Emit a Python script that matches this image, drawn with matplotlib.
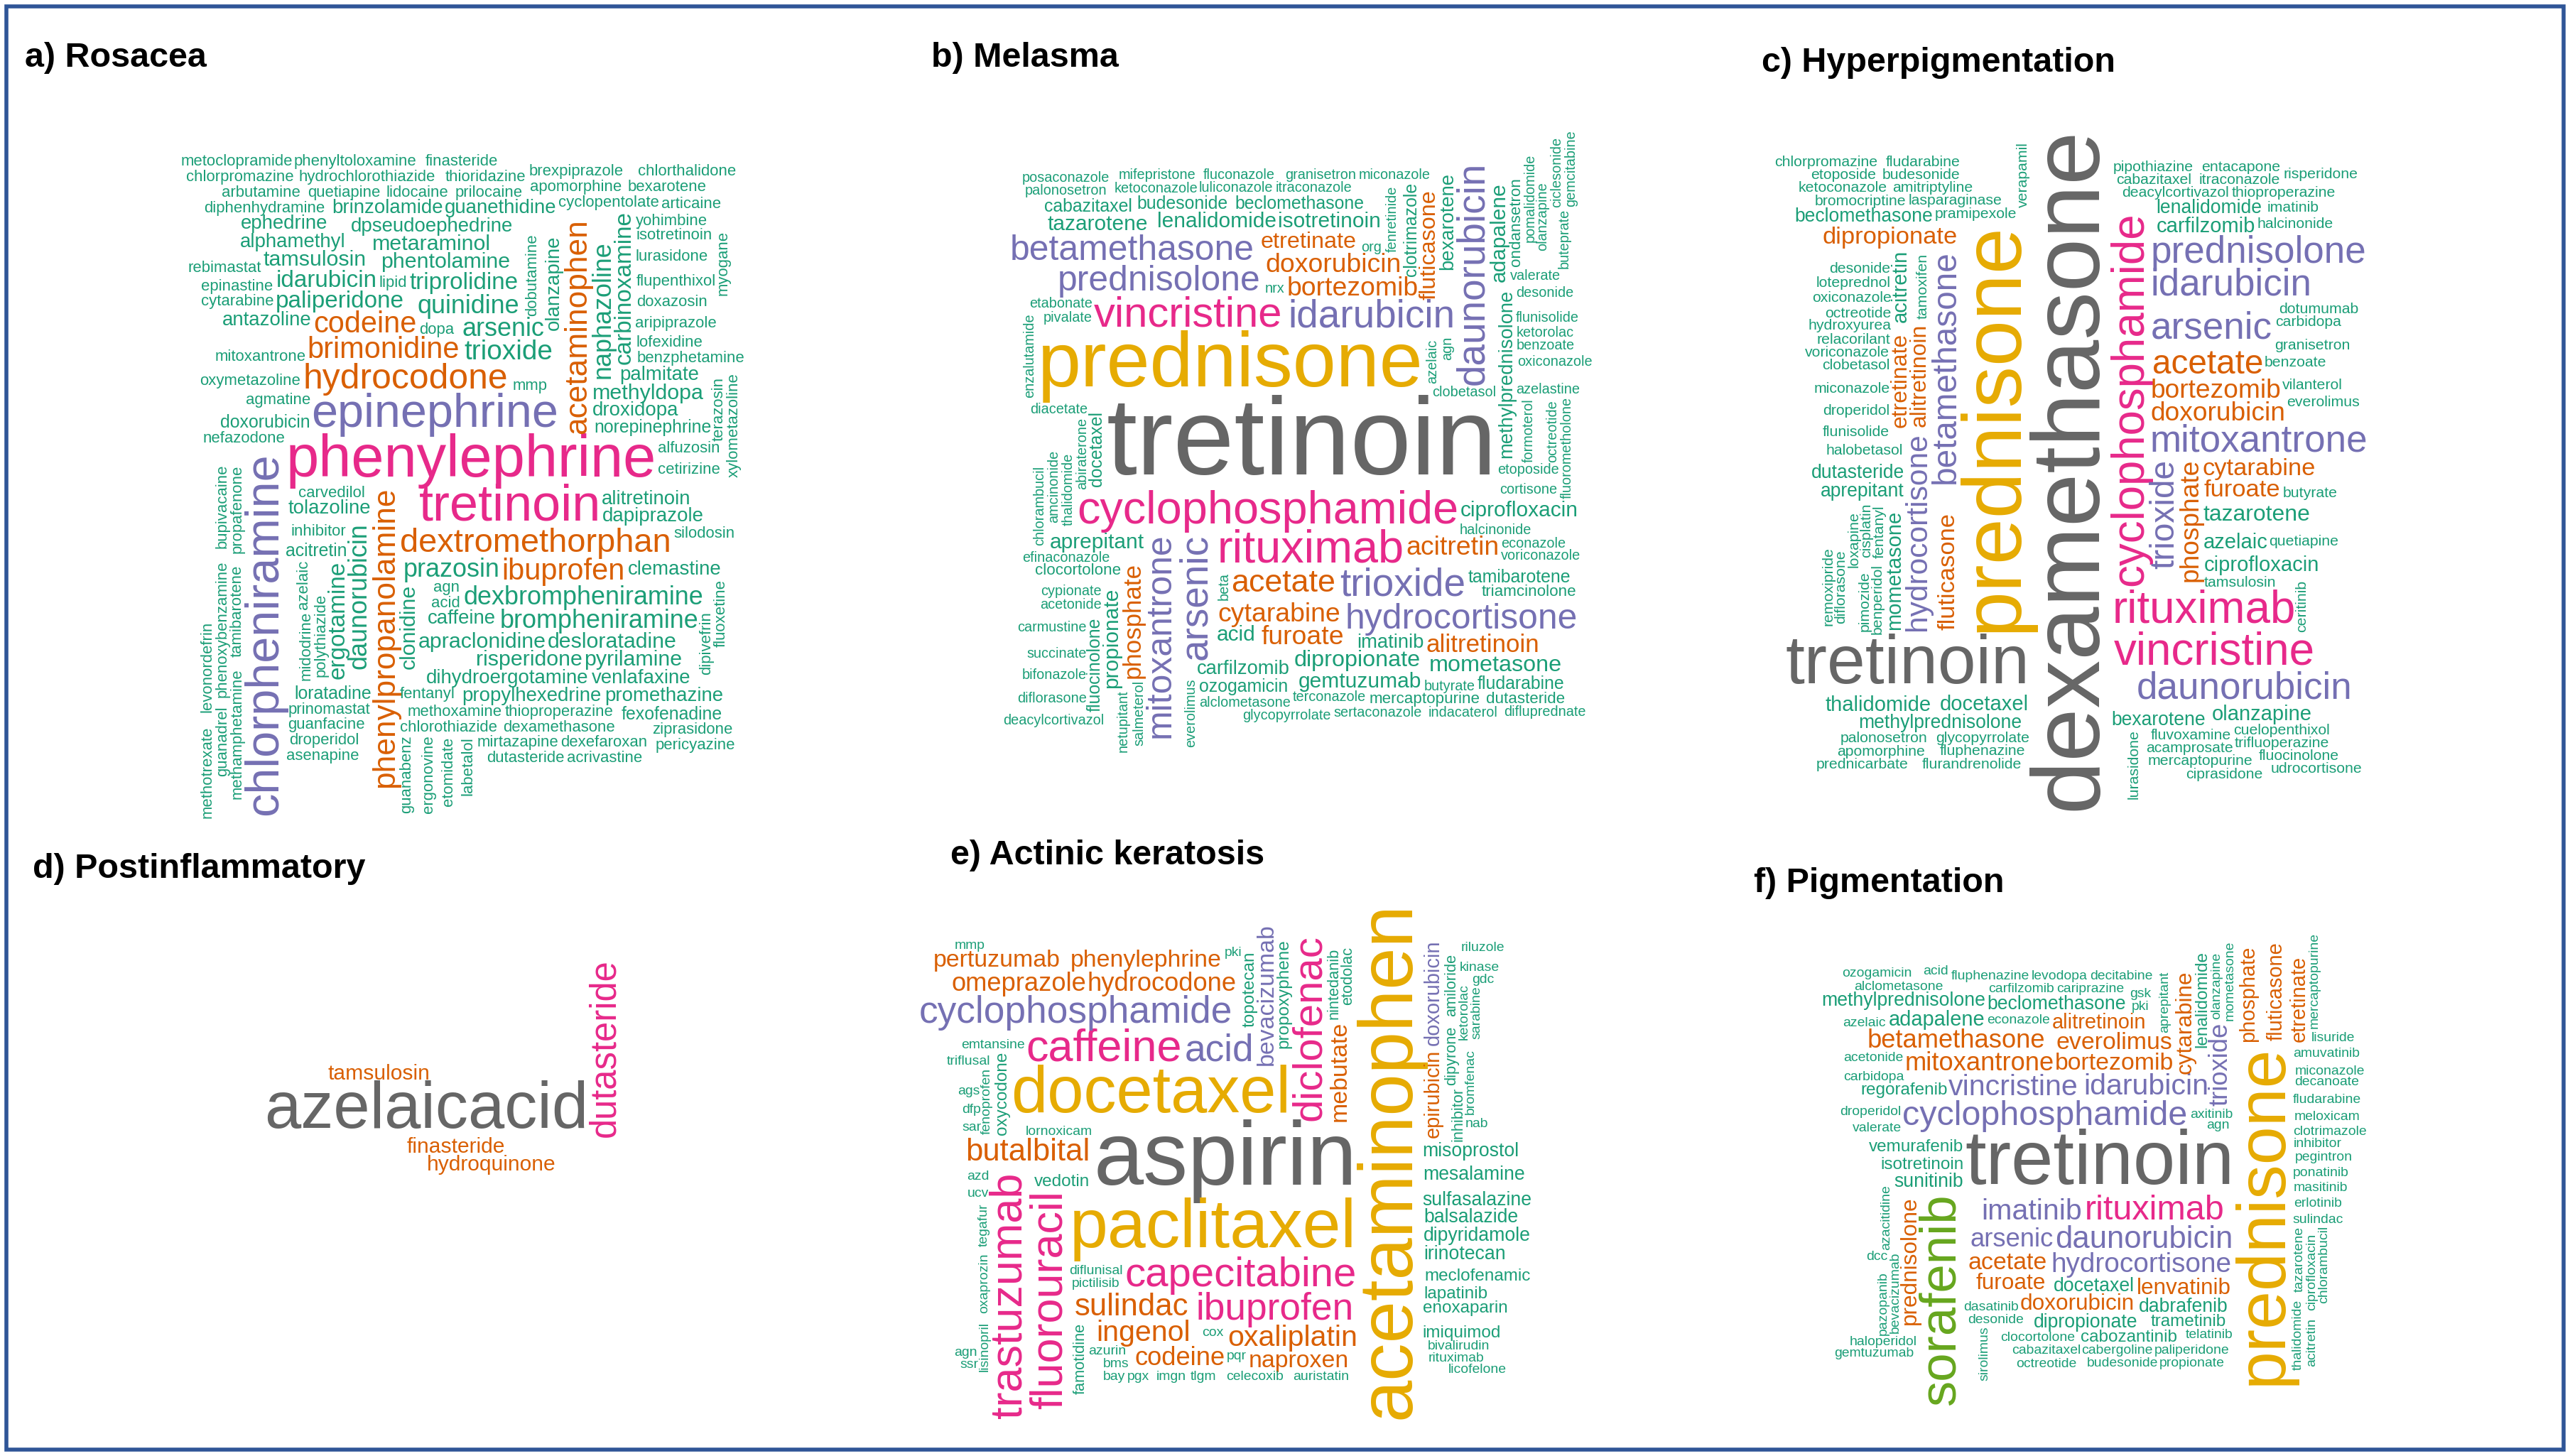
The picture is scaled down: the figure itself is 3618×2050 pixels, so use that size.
import numpy as np
import matplotlib
matplotlib.use("Agg")
import matplotlib.pyplot as plt
from matplotlib.patches import Rectangle

# ---------------- data: (word, frequency-size, tier) ----------------
S = 8
words_a = [("phenylephrine",30,4),("tretinoin",26,4),("epinephrine",24,3),("chlorpheniramine",24,3),
 ("hydrocodone",18,2),("dextromethorphan",17,2),("acetaminophen",16,2),("phenylpropanolamine",16,2),
 ("brimonidine",15,2),("ibuprofen",15,2),("codeine",15,2),("trioxide",14,1),("daunorubicin",13,1),
 ("naphazoline",13,1),("dexbrompheniramine",13,1),("prazosin",13,1),("arsenic",13,1),("quinidine",13,1),
 ("brompheniramine",13,1),("paliperidone",12,1),("triprolidine",12,1),("ergotamine",12,1),("carbinoxamine",12,1),
 ("idarubicin",12,1),("desloratadine",11,1),("apraclonidine",11,1),("phentolamine",11,1),("pyrilamine",11,1),
 ("risperidone",11,1),("tamsulosin",11,1),("clonidine",11,1),("metaraminol",11,1),("methyldopa",11,1),
 ("droxidopa",10,1),("venlafaxine",10,1),("alitretinoin",10,1),("dihydroergotamine",10,1),("alphamethyl",10,1),
 ("dapiprazole",10,1),("tolazoline",10,1),("dpseudoephedrine",10,1),("palmitate",10,1),("promethazine",10,1),
 ("propylhexedrine",10,1),("ephedrine",10,1),("clemastine",10,1),("brinzolamide",10,1),("guanethidine",10,1),
 ("antazoline",10,1),("caffeine",10,1),("olanzapine",10,1),("acitretin",9,1),("norepinephrine",9,1),
 ("loratadine",9,1),("doxorubicin",9,1),("fexofenadine",9,1),("carvedilol",8,1)] + [(w,S,1) for w in
 ["thioproperazine","agmatine","inhibitor","yohimbine","diphenhydramine","methoxamine","isotretinoin","lurasidone",
  "cyclopentolate","flupenthixol","prinomastat","doxazosin","aripiprazole","mitoxantrone","lofexidine","benzphetamine",
  "dexamethasone","oxymetazoline","chlorothiazide","guanfacine","alfuzosin","cetirizine","arbutamine","quetiapine",
  "polythiazide","dobutamine","lidocaine","articaine","prilocaine","mmp","midodrine","methamphetamine","tamibarotene",
  "ziprasidone","apomorphine","bexarotene","nefazodone","dexefaroxan","mirtazapine","chlorpromazine",
  "hydrochlorothiazide","droperidol","thioridazine","cytarabine","pericyazine","brexpiprazole","epinastine",
  "propafenone","silodosin","chlorthalidone","acrivastine","dipivefrin","guanadrel","phenoxybenzamine","terazosin",
  "bupivacaine","fluoxetine","myogane","dutasteride","xylometazoline","labetalol","methotrexate","metoclopramide",
  "etomidate","ergonovine","fentanyl","azelaic","agn","dopa","acid","asenapine","rebimastat","guanabenz",
  "phenyltoloxamine","levonordefrin","lipid","finasteride"]]
vert_a = {"chlorpheniramine","acetaminophen","phenylpropanolamine","daunorubicin","naphazoline","ergotamine",
 "carbinoxamine","clonidine","olanzapine","methotrexate","dipivefrin","guanadrel","phenoxybenzamine","bupivacaine",
 "fluoxetine","xylometazoline","labetalol","midodrine","methamphetamine","tamibarotene","ergonovine","terazosin",
 "guanabenz","propafenone","dobutamine","polythiazide","azelaic","levonordefrin","etomidate","myogane"}

words_b = [("tretinoin",62,7),("prednisone",44,6),("cyclophosphamide",26,4),("rituximab",26,4),("vincristine",24,4),
 ("idarubicin",22,3),("trioxide",22,3),("daunorubicin",22,3),("arsenic",22,3),("prednisolone",20,3),
 ("hydrocortisone",20,3),("betamethasone",20,3),("mitoxantrone",20,3),("acetate",18,2),("bortezomib",15,2),
 ("cytarabine",15,2),("doxorubicin",15,2),("acitretin",15,2),("furoate",15,2),("alitretinoin",14,2),
 ("phosphate",14,2),("etretinate",13,2),("fluticasone",13,2),("dipropionate",13,1),("mometasone",13,1),
 ("tazarotene",12,1),("lenalidomide",12,1),("isotretinoin",12,1),("aprepitant",12,1),("gemtuzumab",12,1),
 ("ciprofloxacin",12,1),("propionate",12,1),("adapalene",12,1),("acid",12,1),("methylprednisolone",11,1),
 ("bexarotene",11,1),("imatinib",11,1),("carfilzomib",11,1),("tamibarotene",10,1),("fludarabine",10,1),
 ("cabazitaxel",10,1),("ozogamicin",10,1),("budesonide",10,1),("beclomethasone",10,1),("clotrimazole",10,1),
 ("fluocinolone",10,1),("docetaxel",10,1),("clocortolone",9,1),("ondansetron",9,1),("triamcinolone",9,1),
 ("dutasteride",9,1),("mercaptopurine",9,1)] + [(w,S,1) for w in
 ["halcinonide","efinaconazole","clobetasol","palonosetron","etoposide","terconazole","cortisone","alclometasone",
  "ketoconazole","econazole","acetonide","cypionate","butyrate","valerate","fenretinide","abiraterone",
  "luliconazole","itraconazole","voriconazole","pivalate","difluprednate","etabonate","diacetate","indacaterol",
  "sertaconazole","posaconazole","glycopyrrolate","mifepristone","desonide","azelastine","diflorasone",
  "fluconazole","granisetron","bifonazole","succinate","flunisolide","miconazole","pomalidomide","thalidomide",
  "azelaic","olanzapine","amcinonide","everolimus","carmustine","formoterol","salmeterol","ketorolac","nrx","org",
  "ciclesonide","octreotide","netupitant","benzoate","oxiconazole","beta","chlorambucil","buteprate",
  "fluorometholone","gemcitabine","deacylcortivazol","enzalutamide","agn"]]
vert_b = {"daunorubicin","arsenic","mitoxantrone","phosphate","fluticasone","propionate","adapalene",
 "methylprednisolone","bexarotene","clotrimazole","fluocinolone","docetaxel","ondansetron","fenretinide",
 "abiraterone","pomalidomide","thalidomide","azelaic","olanzapine","everolimus","formoterol","salmeterol",
 "ciclesonide","octreotide","netupitant","chlorambucil","buteprate","fluorometholone","gemcitabine",
 "enzalutamide","amcinonide","agn","beta"}

words_c = [("dexamethasone",60,7),("tretinoin",52,7),("prednisone",44,6),("cyclophosphamide",24,4),
 ("rituximab",24,4),("vincristine",24,4),("daunorubicin",20,3),("idarubicin",20,3),("prednisolone",20,3),
 ("mitoxantrone",20,3),("arsenic",20,3),("trioxide",18,3),("betamethasone",18,3),("hydrocortisone",16,3),
 ("acetate",18,2),("bortezomib",14,2),("doxorubicin",14,2),("phosphate",14,2),("cytarabine",13,2),
 ("furoate",13,2),("fluticasone",13,2),("dipropionate",13,2),("alitretinoin",12,2),("etretinate",12,2),
 ("tazarotene",12,1),("azelaic",11,1),("acitretin",11,1),("ciprofloxacin",11,1),("docetaxel",11,1),
 ("thalidomide",11,1),("carfilzomib",11,1),("mometasone",11,1),("olanzapine",11,1),("beclomethasone",10,1),
 ("methylprednisolone",10,1),("bexarotene",10,1),("lenalidomide",10,1),("aprepitant",10,1),("dutasteride",10,1)] + \
 [(w,S,1) for w in
 ["tamsulosin","halobetasol","cuelopenthixol","pramipexole","flunisolide","fluvoxamine","bromocriptine",
  "hydroxyurea","lasparaginase","glycopyrrolate","droperidol","palonosetron","octreotide","oxiconazole",
  "miconazole","clobetasol","tamoxifen","benperidol","fentanyl","voriconazole","loteprednol","relacorilant",
  "deacylcortivazol","desonide","trifluoperazine","thioproperazine","halcinonide","benzoate","acamprosate",
  "pimozide","cisplatin","ketoconazole","loxapine","amitriptyline","fluphenazine","imatinib","apomorphine",
  "quetiapine","fluocinolone","cabazitaxel","carbidopa","itraconazole","mercaptopurine",
  "granisetron","etoposide","budesonide","flurandrenolide","prednicarbate","vilanterol","udrocortisone",
  "diflorasone","butyrate","remoxipride","dotumumab","pipothiazine","entacapone","risperidone","everolimus",
  "ciprasidone","verapamil","ceritinib","lurasidone","chlorpromazine","fludarabine"]]
vert_c = {"dexamethasone","prednisone","cyclophosphamide","trioxide","betamethasone","hydrocortisone","phosphate",
 "fluticasone","alitretinoin","etretinate","acitretin","mometasone","fentanyl","benperidol","pimozide",
 "cisplatin","loxapine","verapamil","tamoxifen","ceritinib","lurasidone","remoxipride","diflorasone"}

words_d = [("azelaicacid",40,7),("dutasteride",22,4),("finasteride",13,2),("tamsulosin",13,2),("hydroquinone",13,2)]
vert_d = {"dutasteride"}

words_e = [("aspirin",52,7),("acetaminophen",44,6),("paclitaxel",40,6),("docetaxel",38,6),("caffeine",26,4),
 ("fluorouracil",26,4),("trastuzumab",26,4),("capecitabine",24,4),("diclofenac",24,4),("ibuprofen",22,4),
 ("cyclophosphamide",22,3),("acid",22,3),("sulindac",18,2),("butalbital",18,2),("ingenol",17,2),
 ("oxaliplatin",17,2),("omeprazole",15,2),("hydrocodone",15,2),("codeine",15,2),("naproxen",14,2),
 ("pertuzumab",14,2),("phenylephrine",14,2),("mebutate",14,2),("bevacizumab",14,3),("doxorubicin",12,3),
 ("epirubicin",12,2),("misoprostol",11,1),("mesalamine",11,1),("sulfasalazine",11,1),("balsalazide",11,1),
 ("dipyridamole",11,1),("irinotecan",11,1),("meclofenamic",10,1),("vedotin",10,1),("lapatinib",10,1),
 ("enoxaparin",10,1),("imiquimod",10,1),("propoxyphene",10,1),("topotecan",10,1),("oxycodone",10,1),
 ("nintedanib",9,1),("etodolac",9,1),("amiloride",9,1),("dipyrone",9,1),("famotidine",9,1),("inhibitor",9,1)] + \
 [(w,S,1) for w in ["lornoxicam","emtansine","diflunisal","bivalirudin","rituximab","pictilisib","fenoprofen",
  "licofelone","triflusal","riluzole","auristatin","kinase","azurin","cox","bms","celecoxib","ketorolac",
  "lisinopril","oxaprozin","tegafur","bromfenac","ucv","azd","nab","pqr","sar","pki","tlgm","dfp","imgn",
  "sarabine","ags","gdc","ssr","pgx","bay","mmp","agn"]]
vert_e = {"acetaminophen","fluorouracil","trastuzumab","diclofenac","mebutate","bevacizumab","doxorubicin",
 "epirubicin","propoxyphene","topotecan","oxycodone","nintedanib","etodolac","amiloride","dipyrone","famotidine",
 "inhibitor","fenoprofen","ketorolac","lisinopril","oxaprozin","tegafur","bromfenac","sarabine"}

words_f = [("tretinoin",44,7),("prednisone",40,6),("sorafenib",30,5),("rituximab",20,4),("cyclophosphamide",20,3),
 ("daunorubicin",18,3),("imatinib",17,3),("vincristine",17,3),("idarubicin",17,3),("hydrocortisone",16,3),
 ("arsenic",15,3),("trioxide",15,3),("mitoxantrone",15,2),("betamethasone",15,2),("bortezomib",14,2),
 ("acetate",14,2),("everolimus",14,2),("furoate",13,2),("lenvatinib",13,2),("doxorubicin",13,2),
 ("cytarabine",13,2),("prednisolone",13,2),("phosphate",12,2),("fluticasone",12,2),("etretinate",12,2),
 ("alitretinoin",12,2),("adapalene",12,1),("docetaxel",11,1),("dabrafenib",11,1),("sunitinib",11,1),
 ("dipropionate",11,1),("beclomethasone",11,1),("methylprednisolone",11,1),("isotretinoin",10,1),
 ("vemurafenib",10,1),("trametinib",10,1),("regorafenib",10,1),("cabozantinib",10,1),("lenalidomide",10,1)] + \
 [(w,S,1) for w in ["clocortolone","econazole","carfilzomib","dasatinib","cariprazine","alclometasone",
  "paliperidone","haloperidol","cabergoline","cabazitaxel","fluphenazine","desonide","levodopa","decitabine",
  "aprepitant","ozogamicin","gemtuzumab","amuvatinib","fludarabine","miconazole","decanoate","meloxicam",
  "telatinib","clotrimazole","sulindac","inhibitor","tazarotene","thalidomide","bevacizumab","pegintron",
  "ponatinib","axitinib","masitinib","erlotinib","valerate","droperidol","carbidopa","olanzapine",
  "ciprofloxacin","mercaptopurine","mometasone","azacitidine","acitretin","propionate","pazopanib","sirolimus",
  "budesonide","acetonide","octreotide","chlorambucil","lisuride","agn","pki","gsk","dcc","acid","azelaic"]]
vert_f = {"prednisone","sorafenib","cytarabine","prednisolone","phosphate","fluticasone","etretinate",
 "lenalidomide","tazarotene","thalidomide","bevacizumab","olanzapine","ciprofloxacin","mercaptopurine",
 "mometasone","azacitidine","acitretin","pazopanib","sirolimus","aprepitant","trioxide","chlorambucil"}

titles = ["a) Rosacea","b) Melasma","c) Hyperpigmentation","d) Postinflammatory","e) Actinic keratosis","f) Pigmentation"]

tier_colors = {1:"#1b9e77",2:"#d95f02",3:"#7570b3",4:"#e7298a",5:"#66a61e",6:"#e6ab02",7:"#666666"}

# ---------------- layout ----------------
W, H = 1568, 885
SC = 3618 / W
DPI = 200
fig = plt.figure(figsize=(3618/DPI, 2050/DPI), dpi=DPI)
ax = fig.add_axes([0, 0, 1, 1])
ax.set_xlim(0, W); ax.set_ylim(H, 0); ax.axis("off")
ax.add_patch(Rectangle((4, 4), W-8, H-8, fill=False, ec="#2f5597", lw=2))
renderer = fig.canvas.get_renderer()
FONT = "Liberation Sans"
PT = SC / DPI * 72

panels = [
 (words_a, vert_a, (15, 35), (105, 60, 470, 500), 1.2),
 (words_b, vert_b, (568, 35), (598, 60, 990, 482), 1.08),
 (words_c, vert_c, (1075, 38), (1075, 58, 1452, 512), 1.15),
 (words_d, vert_d, (20, 528), (140, 580, 380, 770), 1.0),
 (words_e, vert_e, (580, 520), (553, 545, 942, 867), 1.05),
 (words_f, vert_f, (1070, 537), (1105, 558, 1457, 857), 1.05),
]

def place(words, vert, box, scale):
    x0, y0, x1, y1 = box
    cx, cy = (x0+x1)/2, (y0+y1)/2
    asp = (x1-x0)/(y1-y0)
    t = np.arange(0, 40000) * 0.04
    r = 0.25 * t
    c, s = np.cos(t), np.sin(t)
    m = np.maximum(np.abs(c), np.abs(s))
    px = cx + r*c/m*asp
    py = cy + r*s/m
    keep = (px > x0) & (px < x1) & (py > y0) & (py < y1)
    px, py = px[keep], py[keep]
    placed = []
    for w, sz, tier in sorted(words, key=lambda z: -z[1]):
        rot = 90 if w in vert else 0
        for shrink in (1.0, 0.85, 0.7, 0.6):
            fs = sz*scale*shrink*PT
            tt = ax.text(0, 0, w, fontsize=fs, family=FONT, ha="center", va="center")
            bb = tt.get_window_extent(renderer)
            tt.remove()
            bw, bh = bb.width/SC + 0.5, bb.height/SC*0.9
            if rot: bw, bh = bh, bw
            ok = (px-bw/2 >= x0) & (px+bw/2 <= x1) & (py-bh/2 >= y0) & (py+bh/2 <= y1)
            for (qx0, qy0, qx1, qy1) in placed:
                ok &= ~((px-bw/2 < qx1) & (px+bw/2 > qx0) & (py-bh/2 < qy1) & (py+bh/2 > qy0))
            idx = np.flatnonzero(ok)
            if idx.size:
                i = idx[0]
                X, Y = px[i], py[i]
                placed.append((X-bw/2, Y-bh/2, X+bw/2, Y+bh/2))
                ax.text(X, Y, w, fontsize=fs, family=FONT, ha="center", va="center",
                        rotation=rot, rotation_mode="anchor", color=tier_colors[tier])
                break

for (words, vert, tpos, box, scale), title in zip(panels, titles):
    ax.text(tpos[0], tpos[1], title, fontsize=20*PT*1.05, family=FONT, weight="bold",
            ha="left", va="center", color="black")
    place(words, vert, box, scale)

fig.savefig("out.png", dpi=DPI)
